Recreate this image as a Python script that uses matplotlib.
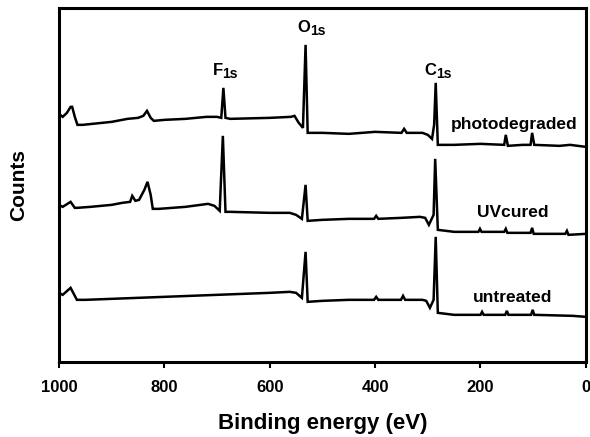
import matplotlib
matplotlib.use("Agg")
import matplotlib.pyplot as plt

plt.rcParams['font.family'] = ['Liberation Sans', 'DejaVu Sans']

# ---- data (binding energy in eV, counts in arbitrary offset units) ----
photo_ev = [1000, 993, 985, 978, 975, 970, 965, 955, 900, 870, 850, 840, 833, 826, 820,
            800, 760, 720, 700, 692, 688, 684, 675, 600, 560, 553, 545, 537, 532, 528,
            500, 450, 400, 350, 345, 340, 310, 300, 292, 288, 285, 281, 250, 200, 155,
            152, 148, 120, 105, 102, 98, 50, 30, 0]
photo_counts = [248, 245, 249, 255, 255, 245, 237, 237, 240, 243, 244, 246, 251, 244, 241,
                242, 243, 245, 245, 244, 274, 244, 243, 244, 245, 246, 239, 234, 317, 229,
                229, 228, 230, 229, 233, 229, 229, 227, 223, 237, 279, 217, 217, 218, 217,
                227, 216, 217, 217, 229, 217, 216, 217, 215]

uv_ev = [1000, 993, 978, 970, 966, 940, 900, 880, 865, 861, 855, 848, 838, 832, 826,
         822, 810, 760, 717, 705, 695, 689, 684, 675, 600, 562, 550, 539, 532, 528,
         500, 450, 402, 398, 394, 350, 315, 305, 298, 289, 286, 281, 250, 204, 201,
         198, 155, 152, 149, 105, 102, 99, 39, 36, 33, 0]
uv_counts = [157, 155, 160, 154, 154, 155, 157, 159, 160, 166, 161, 162, 172, 180, 167,
             153, 153, 155, 158, 156, 151, 226, 150, 150, 149, 149, 147, 143, 177, 141,
             142, 143, 143, 146, 143, 144, 145, 144, 137, 147, 203, 132, 130, 130, 133,
             130, 130, 133, 129, 129, 134, 128, 128, 131, 127, 128]

untr_ev = [1000, 993, 978, 970, 966, 950, 900, 800, 700, 600, 562, 550, 539, 532, 528,
           500, 450, 402, 398, 394, 351, 347, 343, 310, 303, 296, 289, 285, 281, 250,
           200, 197, 194, 153, 150, 147, 104, 101, 98, 25, 0]
untr_counts = [69, 67, 74, 66, 62, 62, 63, 65, 67, 69, 70, 69, 64, 110, 60,
               61, 62, 62, 65, 62, 62, 66, 62, 62, 61, 54, 62, 125, 49, 47,
               47, 50, 47, 47, 51, 47, 47, 52, 47, 46, 45]

series_labels = ['photodegraded', 'UVcured', 'untreated']
peak_elements = ['F', 'O', 'C']
peak_sub = '1s'
tick_vals = [1000, 800, 600, 400, 200, 0]

fig = plt.figure(figsize=(5.9, 4.37), dpi=100)
ax = fig.add_axes([0.1, 0.172, 0.893, 0.81])

for ev, c in [(photo_ev, photo_counts), (uv_ev, uv_counts), (untr_ev, untr_counts)]:
    ax.plot(ev, c, color='black', lw=1.8, solid_joinstyle='miter')

ax.set_xlim(1000, 0)
ax.set_ylim(0, 354)
ax.set_yticks([])
ax.set_xticks(tick_vals)
ax.set_xticklabels([str(v) for v in tick_vals], fontsize=12, fontweight='bold')
ax.tick_params(axis='x', direction='out', length=4, width=1.5, pad=9)
for s in ax.spines.values():
    s.set_linewidth(2.2)

# curve labels
ax.text(137, 237, series_labels[0], ha='center', va='center', fontsize=12.5, fontweight='bold')
ax.text(138, 149, series_labels[1], ha='center', va='center', fontsize=12.5, fontweight='bold')
ax.text(140, 64, series_labels[2], ha='center', va='center', fontsize=12.5, fontweight='bold')

# peak labels: element letter + lowered subscript
peak_pos = [(708, 287), (548, 330), (307, 287)]
adv = {'F': 7.0, 'O': 9.0, 'C': 8.5}
for el, (x, y) in zip(peak_elements, peak_pos):
    ax.text(x, y, el, ha='left', va='baseline', fontsize=12, fontweight='bold')
    ax.annotate(peak_sub, xy=(x, y), xycoords='data', xytext=(adv[el], -2.2),
                textcoords='offset points', ha='left', va='baseline',
                fontsize=10, fontweight='bold')

ax.set_xlabel('Binding energy (eV)', fontsize=16, fontweight='bold', labelpad=13)
ax.set_ylabel('Counts', fontsize=15, fontweight='bold', labelpad=22)

fig.savefig('out.png', dpi=100)
